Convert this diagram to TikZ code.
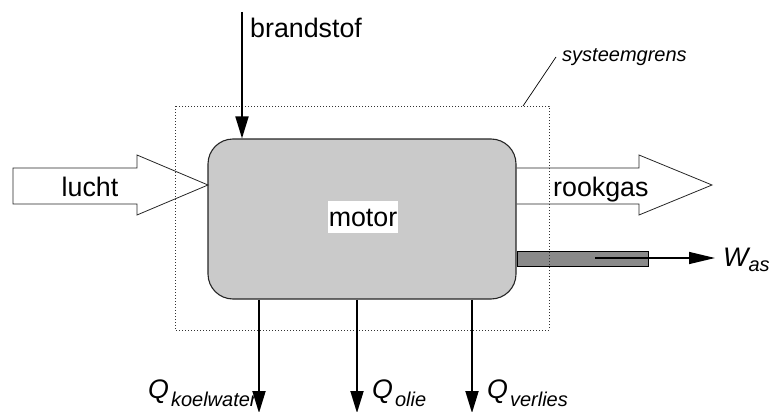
\documentclass[tikz,border=0pt]{standalone}
\usepackage{fontspec}
\setmainfont{Liberation Sans}
\usetikzlibrary{arrows.meta,calc}
\definecolor{motorgray}{RGB}{202,202,202}
\definecolor{shaftgray}{RGB}{138,138,138}
\newcommand{\bigtxt}{\fontsize{26.8}{30}\selectfont}
\newcommand{\subtxt}{\fontsize{20}{22}\selectfont}
\begin{document}
\begin{tikzpicture}[x=1pt,y=-1pt,
  flow/.style={line width=1.8pt,-{Triangle[length=22pt,width=13pt]}},
  workflow/.style={line width=1.4pt,-{Triangle[length=26pt,width=12pt]}},
  bigarrow/.style={line width=0.8pt,draw=black!85,line join=miter},
  boundary/.style={line width=0.9pt,draw=black!80,dash pattern=on 1pt off 2pt},
  lbl/.style={inner sep=0pt,font=\bigtxt},
]
\useasboundingbox (0,0) rectangle (782,412);

% engine block
\node[draw=black!85,line width=1.1pt,fill=motorgray,rounded corners=25pt,
      minimum width=308pt,minimum height=160pt,inner sep=0pt] (motor) at (362,219) {};
\node[fill=white,minimum width=70pt,minimum height=32pt,inner sep=0pt] (motorlbl) at (363,217) {};
\node[lbl,anchor=base] (motortxt) at (363,226) {motor};

% output shaft
\node[draw=black,line width=0.9pt,fill=shaftgray,minimum width=131pt,minimum height=15pt,
      inner sep=0pt,anchor=west] (shaft) at (motor.east |- 0,258.5) {};

% air inlet arrow
\draw[bigarrow] (13,168) -- (137,168) -- (137,155) -- (208,185) -- (137,215) -- (137,204) -- (13,204) -- cycle;
\node[lbl,anchor=base] (lucht) at (90,196) {lucht};

% exhaust arrow
\draw[bigarrow] (motor.east |- 0,168) -- (639,168) -- (639,155) -- (712,185) -- (639,215) -- (639,204) -- (motor.east |- 0,204);
\node[lbl,anchor=base west] (rookgas) at (553,196) {rookgas};

% system boundary
\draw[boundary] (175,106) rectangle (549,330);
\coordinate (bnd) at (523,106);
\coordinate (bndlbl) at (556,57);
\draw[line width=0.7pt] (bndlbl) -- (bnd);
\node[inner sep=0pt,anchor=base west,font=\subtxt\itshape] (sysgr) at (562,62) {systeemgrens};

% fuel supply
\coordinate (fuel) at (242,12);
\draw[flow] (fuel) -- (fuel |- motor.north);
\node[lbl,anchor=base west] (brandstof) at (250,38) {brandstof};

% shaft work
\coordinate (wstart) at (595,258);
\coordinate (wend) at (715,258);
\draw[workflow] (wstart) -- (wend);
\node[inner sep=0pt,anchor=base west] (was) at (723,266) {\bigtxt\itshape W\raisebox{-5pt}{\subtxt as}};

% heat losses
\coordinate (qa) at (259,413);
\coordinate (qb) at (357,413);
\coordinate (qc) at (472,413);
\draw[flow] (qa |- motor.south) -- (qa);
\draw[flow] (qb |- motor.south) -- (qb);
\draw[flow] (qc |- motor.south) -- (qc);
\node[inner sep=0pt,anchor=base west] (qkw) at (148,398) {\bigtxt\itshape Q\kern2pt\raisebox{-8pt}{\subtxt koelwater}};
\node[inner sep=0pt,anchor=base west] (qol) at (372,398) {\bigtxt\itshape Q\kern2pt\raisebox{-8pt}{\subtxt olie}};
\node[inner sep=0pt,anchor=base west] (qvl) at (487,398) {\bigtxt\itshape Q\kern2pt\raisebox{-8pt}{\subtxt verlies}};
\end{tikzpicture}
\end{document}
